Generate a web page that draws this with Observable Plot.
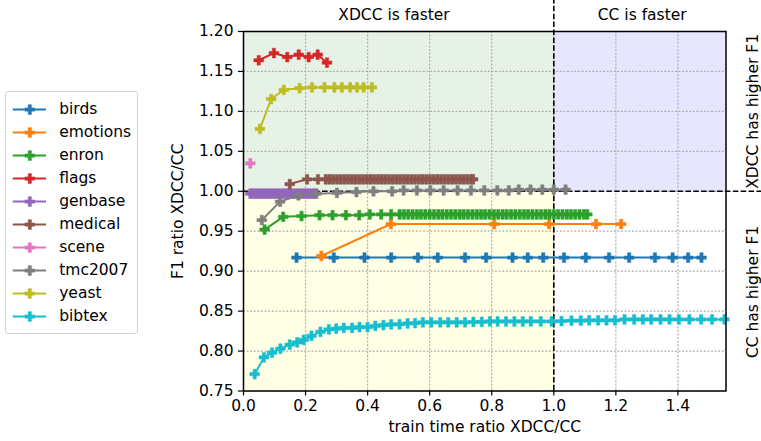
<!DOCTYPE html>
<html><head><meta charset="utf-8">
<script src="https://cdn.jsdelivr.net/npm/d3@7"></script>
<script src="https://cdn.jsdelivr.net/npm/@observablehq/plot@0.6"></script>
<style>
body{margin:0;background:white}
#wrap{position:relative;width:761px;height:441px}
#legend{position:absolute;left:5px;top:91px}
#legend svg{border:1px solid #d3d3d3;border-radius:3px;background:white}
</style>
</head><body>
<div id="wrap"><div id="chart"></div><div id="legend"></div></div>
<script>
const names = ["birds","emotions","enron","flags","genbase","medical","scene","tmc2007","yeast","bibtex"];
const colors = ["#1f77b4","#ff7f0e","#2ca02c","#d62728","#9467bd","#8c564b","#e377c2","#7f7f7f","#bcbd22","#17becf"];
const xTicks = [0,0.2,0.4,0.6,0.8,1.0,1.2,1.4];
const yTicks = [0.75,0.80,0.85,0.90,0.95,1.00,1.05,1.10,1.15,1.20];

const birdsX = [0.171,0.291,0.390,0.476,0.562,0.626,0.714,0.782,0.867,0.916,0.966,1.033,1.103,1.178,1.243,1.326,1.383,1.433,1.476];
const birdsY = [0.917,0.917,0.917,0.917,0.917,0.917,0.917,0.917,0.917,0.917,0.917,0.917,0.917,0.917,0.917,0.917,0.917,0.917,0.917];

const emotionsX = [0.251,0.475,0.808,0.985,1.136,1.217];
const emotionsY = [0.919,0.959,0.959,0.959,0.959,0.959];

const enronX = [0.068,0.128,0.187,0.245,0.287,0.330,0.373,0.407,0.444,0.476,
  0.503,0.517,0.531,0.545,0.559,0.572,0.586,0.600,0.614,0.628,
  0.641,0.655,0.669,0.683,0.697,0.710,0.724,0.738,0.752,0.766,
  0.779,0.793,0.807,0.821,0.835,0.848,0.862,0.876,0.890,0.904,
  0.917,0.931,0.945,0.959,0.973,0.986,1.000,1.014,1.028,1.042,
  1.055,1.069,1.083,1.097,1.108];
const enronY = [0.952,0.968,0.969,0.970,0.970,0.970,0.970,0.971,0.971,0.971,
  0.971,0.971,0.971,0.971,0.971,0.971,0.971,0.971,0.971,0.971,
  0.971,0.971,0.971,0.971,0.971,0.971,0.971,0.971,0.971,0.971,
  0.971,0.971,0.971,0.971,0.971,0.971,0.971,0.971,0.971,0.971,
  0.971,0.971,0.971,0.971,0.971,0.971,0.971,0.971,0.971,0.971,
  0.971,0.971,0.971,0.971,0.971];

const flagsX = [0.049,0.098,0.141,0.178,0.210,0.239,0.269];
const flagsY = [1.164,1.173,1.168,1.171,1.168,1.171,1.161];

const genbaseX = [0.022,0.031,0.040,0.049,0.058,0.067,0.076,0.085,0.094,0.103,0.112,0.121,
  0.130,0.139,0.148,0.157,0.166,0.175,0.184,0.193,0.202,0.211,0.220,0.228];
const genbaseY = [0.997,0.997,0.997,0.997,0.997,0.997,0.997,0.997,0.997,0.997,0.997,0.997,
  0.997,0.997,0.997,0.997,0.997,0.997,0.997,0.997,0.997,0.997,0.997,0.997];

const medicalX = [0.149,0.205,0.240,
  0.265,0.277,0.289,0.301,0.313,0.325,0.337,0.349,0.361,0.373,
  0.385,0.397,0.409,0.421,0.433,0.445,0.457,0.469,0.481,0.493,
  0.505,0.517,0.529,0.541,0.553,0.565,0.577,0.589,0.601,0.613,
  0.625,0.637,0.649,0.661,0.673,0.685,0.697,0.709,0.721,0.733,
  0.740];
const medicalY = [1.009,1.015,1.015,
  1.015,1.015,1.015,1.015,1.015,1.015,1.015,1.015,1.015,1.015,
  1.015,1.015,1.015,1.015,1.015,1.015,1.015,1.015,1.015,1.015,
  1.015,1.015,1.015,1.015,1.015,1.015,1.015,1.015,1.015,1.015,
  1.015,1.015,1.015,1.015,1.015,1.015,1.015,1.015,1.015,1.015,
  1.015];

const sceneX = [0.022];
const sceneY = [1.035];

const tmcX = [0.059,0.118,0.177,0.235,0.301,0.364,0.419,0.479,0.516,0.559,0.602,0.645,0.690,0.733,0.776,0.818,0.855,0.887,0.925,0.963,1.000,1.038];
const tmcY = [0.964,0.987,0.995,0.997,0.998,0.999,1.000,1.000,1.001,1.001,1.001,1.001,1.001,1.001,1.001,1.001,1.001,1.002,1.002,1.002,1.002,1.002];

const yeastX = [0.053,0.089,0.130,0.181,0.221,0.261,0.293,0.317,0.344,0.366,0.387,0.414];
const yeastY = [1.078,1.1155,1.127,1.129,1.130,1.130,1.130,1.130,1.130,1.130,1.130,1.130];

const bibtexX = [0.036,0.066,0.092,0.119,0.149,0.173,0.194,0.219,0.248,0.275,
  0.299,0.323,0.350,0.374,0.400,0.425,0.451,0.476,0.503,0.529,
  0.553,0.578,0.605,0.634,0.660,0.687,0.714,0.741,0.768,0.794,
  0.819,0.846,0.873,0.900,0.926,0.958,0.993,1.025,1.057,1.087,
  1.114,1.143,1.170,1.197,1.228,1.259,1.287,1.314,1.344,1.373,
  1.403,1.437,1.475,1.510,1.550];
const bibtexY = [0.771,0.792,0.798,0.803,0.808,0.811,0.814,0.819,0.824,0.827,
  0.828,0.829,0.829,0.830,0.830,0.8315,0.8325,0.8335,0.8335,0.8345,
  0.835,0.836,0.836,0.836,0.836,0.836,0.836,0.8365,0.8365,0.837,
  0.837,0.837,0.837,0.837,0.837,0.837,0.837,0.8375,0.838,0.838,
  0.8385,0.8385,0.8385,0.8385,0.8395,0.8395,0.8395,0.8395,0.8395,0.8395,
  0.8395,0.8395,0.8395,0.8395,0.8395];

const seriesX = [birdsX,emotionsX,enronX,flagsX,genbaseX,medicalX,sceneX,tmcX,yeastX,bibtexX];
const seriesY = [birdsY,emotionsY,enronY,flagsY,genbaseY,medicalY,sceneY,tmcY,yeastY,bibtexY];

const regions = [
  {x1:0, x2:1, y1:1, y2:1.2, fill:"#e6f2e6"},
  {x1:1, x2:1.555, y1:1, y2:1.2, fill:"#e6e6ff"},
  {x1:0, x2:1, y1:0.75, y2:1, fill:"#ffffe6"}
];

const FONT = "DejaVu Sans";
const dotR = 4.1;

const marks = [
  Plot.rect(regions, {x1:"x1", x2:"x2", y1:"y1", y2:"y2", fill:d=>d.fill}),
  Plot.gridX(xTicks, {stroke:"#b0b0b0", strokeOpacity:1, strokeWidth:1.2, strokeDasharray:"2,1.6"}),
  Plot.gridY(yTicks, {stroke:"#b0b0b0", strokeOpacity:1, strokeWidth:1.2, strokeDasharray:"2,1.6"}),
  Plot.ruleX([1], {y1:0.75, y2:1.2389, stroke:"black", strokeWidth:1.6, strokeDasharray:"5.5,2.4"}),
  Plot.ruleY([1], {x1:0, x2:1.67, stroke:"black", strokeWidth:1.6, strokeDasharray:"5.5,2.4"})
];

names.forEach((n, i) => {
  const rows = seriesX[i].map((x, j) => ({name:n, x, y:seriesY[i][j]}));
  marks.push(Plot.line(rows, {x:"x", y:"y", stroke:colors[i], strokeWidth:2}));
  marks.push(Plot.dot(rows, {x:"x", y:"y", fill:colors[i], symbol:"cross", r:dotR, stroke:colors[i], strokeWidth:0.5}));
});

marks.push(
  Plot.frame({stroke:"black", strokeWidth:1.5}),
  Plot.axisX(xTicks, {tickFormat:d=>d.toFixed(1), tickSize:5, tickPadding:4, label:null, stroke:"black", strokeWidth:1.2}),
  Plot.axisY(yTicks, {tickFormat:d=>d.toFixed(2), tickSize:5, tickPadding:5, label:null, stroke:"black", strokeWidth:1.2}),
  Plot.text(["train time ratio XDCC/CC"], {frameAnchor:"bottom", dy:41, fontSize:15.5}),
  Plot.text(["F1 ratio XDCC/CC"], {x:0, y:0.975, dx:-65, rotate:-90, fontSize:15.5}),
  Plot.text(["XDCC is faster"], {x:0.485, y:1.2, dy:-16, fontSize:15.5}),
  Plot.text(["CC is faster"], {x:1.285, y:1.2, dy:-16, fontSize:15.5}),
  Plot.text(["XDCC has higher F1"], {x:1.555, y:1.1, dx:27, rotate:-90, fontSize:15.5}),
  Plot.text(["CC has higher F1"], {x:1.555, y:0.874, dx:27, rotate:-90, fontSize:15.5})
);

const chart = Plot.plot({
  width:761, height:441,
  marginLeft:243, marginRight:35.5, marginTop:31, marginBottom:50.5,
  x:{domain:[0,1.555]},
  y:{domain:[0.75,1.2]},
  style:{fontFamily:FONT, fontSize:"15.5px", color:"black", background:"white", overflow:"visible"},
  marks
});
document.getElementById("chart").appendChild(chart);

const legendMarks = [];
names.forEach((n, i) => {
  legendMarks.push(Plot.ruleY([n], {y:d=>d, x1:6.7, x2:40, stroke:colors[i], strokeWidth:2}));
  legendMarks.push(Plot.dot([n], {y:d=>d, x:23.3, fill:colors[i], symbol:"cross", r:dotR, stroke:colors[i], strokeWidth:0.5}));
});
legendMarks.push(Plot.text(names, {y:d=>d, x:52.7, text:d=>d, textAnchor:"start", fontSize:15.5}));

const legend = Plot.plot({
  width:131, height:241,
  margin:0,
  x:{domain:[0,131], range:[0,131], axis:null},
  y:{type:"point", domain:names, range:[12.8,228.5], padding:0, axis:null},
  style:{fontFamily:FONT, fontSize:"15.5px", color:"black", background:"white"},
  marks:legendMarks
});
document.getElementById("legend").appendChild(legend);
</script>
</body></html>
